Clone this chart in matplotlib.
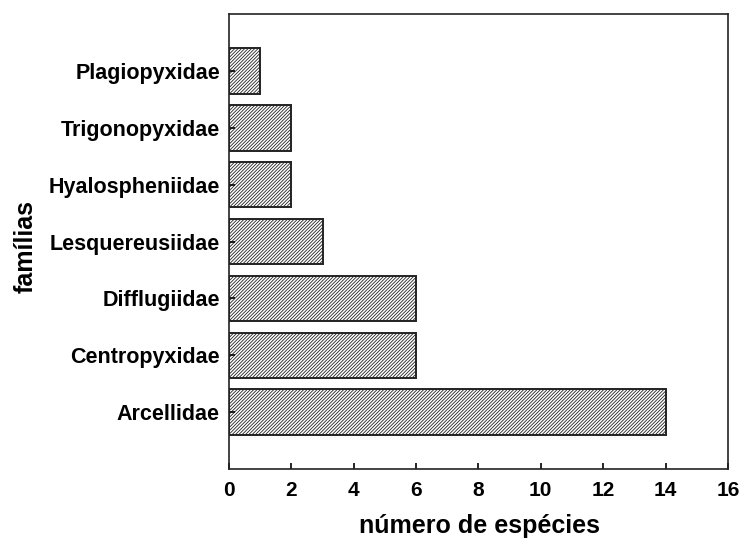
import matplotlib.pyplot as plt

# species count per family
familias = ["Arcellidae", "Centropyxidae", "Difflugiidae", "Lesquereusiidae",
            "Hyalospheniidae", "Trigonopyxidae", "Plagiopyxidae"]
especies = [14, 6, 6, 3, 2, 2, 1]

plt.rcParams['font.family'] = ['Liberation Sans', 'DejaVu Sans']
plt.rcParams['font.weight'] = 'bold'
plt.rcParams['hatch.linewidth'] = 0.6
plt.rcParams['hatch.color'] = '#222222'

fig = plt.figure(figsize=(7.42, 5.4), dpi=100)
ax = fig.add_axes([0.3086, 0.1315, 0.6724, 0.8425])

pos = list(range(len(familias)))
ax.barh(pos, especies, height=0.8, color="white", edgecolor="#222222",
        linewidth=1.4, hatch="//////////")

ax.set_xlim(0, 16)
ax.set_ylim(-1, 7)
ax.set_xticks(range(0, 17, 2))
ax.set_yticks(pos)
ax.set_yticklabels(familias)

ax.tick_params(axis='both', direction='in', length=4, width=1.2)
ax.tick_params(axis='x', pad=9, labelsize=15)
ax.tick_params(axis='y', pad=6.5, labelsize=15.5)
for lbl in ax.get_xticklabels() + ax.get_yticklabels():
    lbl.set_fontweight('bold')

for s in ax.spines.values():
    s.set_linewidth(1.2)
    s.set_color("#222222")

ax.set_xlabel("número de espécies", fontsize=18, fontweight='bold')
ax.set_ylabel("famílias", fontsize=18, fontweight='bold')
ax.xaxis.set_label_coords(0.503, -0.1)
ax.yaxis.set_label_coords(-0.384, 0.49)

fig.savefig("out.png", dpi=100)
